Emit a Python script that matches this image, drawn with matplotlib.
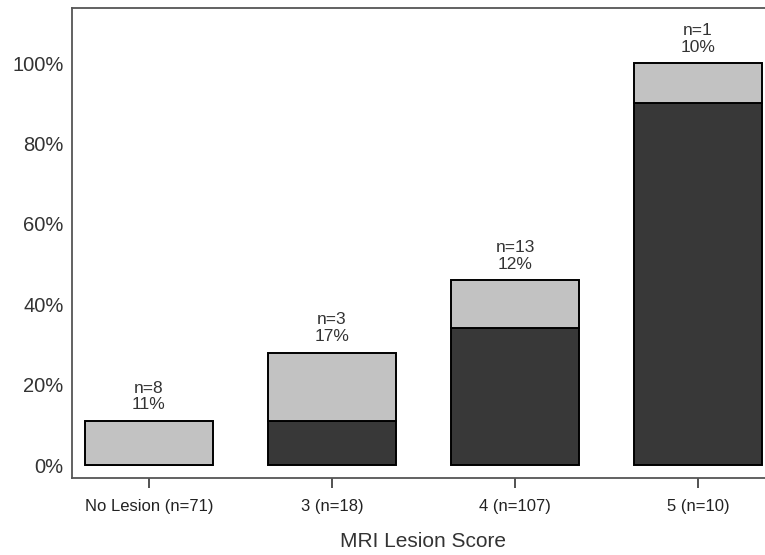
import matplotlib
matplotlib.use("Agg")
import matplotlib.pyplot as plt
from matplotlib.ticker import FuncFormatter

# 資料
categories = ["No Lesion (n=71)", "3 (n=18)", "4 (n=107)", "5 (n=10)"]
dark_pct = [0, 11, 34, 90]
light_pct = [11, 17, 12, 10]
n_labels = ["n=8", "n=3", "n=13", "n=1"]
pct_labels = ["11%", "17%", "12%", "10%"]

plt.rcParams['font.family'] = ['Liberation Sans', 'DejaVu Sans']

fig = plt.figure(figsize=(7.65, 5.55), dpi=100)
ax = fig.add_axes([72 / 765, 77 / 555, 703 / 765, 470 / 555])

x = list(range(len(categories)))
ax.bar(x, dark_pct, width=0.70, color="#383838", edgecolor="black", linewidth=1.4)
ax.bar(x, light_pct, bottom=dark_pct, width=0.70, color="#c2c2c2",
       edgecolor="black", linewidth=1.4)

# 標註 n 與百分比
for i in x:
    top = dark_pct[i] + light_pct[i]
    ax.annotate(pct_labels[i], (i, top), xytext=(0, 11.5), textcoords="offset points",
                ha="center", va="center", fontsize=12.5, color="#333333")
    ax.annotate(n_labels[i], (i, top), xytext=(0, 23.5), textcoords="offset points",
                ha="center", va="center", fontsize=12.5, color="#333333")

ax.set_xlim(-0.42, 3.42)
ax.set_ylim(-3.2, 113.7)
ax.set_yticks([0, 20, 40, 60, 80, 100])
ax.yaxis.set_major_formatter(FuncFormatter(lambda v, p: f"{int(v)}%"))
ax.set_xticks(x)
ax.set_xticklabels(categories)

ax.tick_params(axis="y", length=0, pad=6, labelsize=14.5, labelcolor="#333333")
ax.tick_params(axis="x", length=7, width=1.2, direction="out", pad=8,
               labelsize=12, labelcolor="#222222", color="#333333")
ax.set_xlabel("MRI Lesion Score", fontsize=15, color="#333333", labelpad=13)

for s in ax.spines.values():
    s.set_color("#555555")
    s.set_linewidth(1.3)

fig.savefig("out.png", dpi=100)
